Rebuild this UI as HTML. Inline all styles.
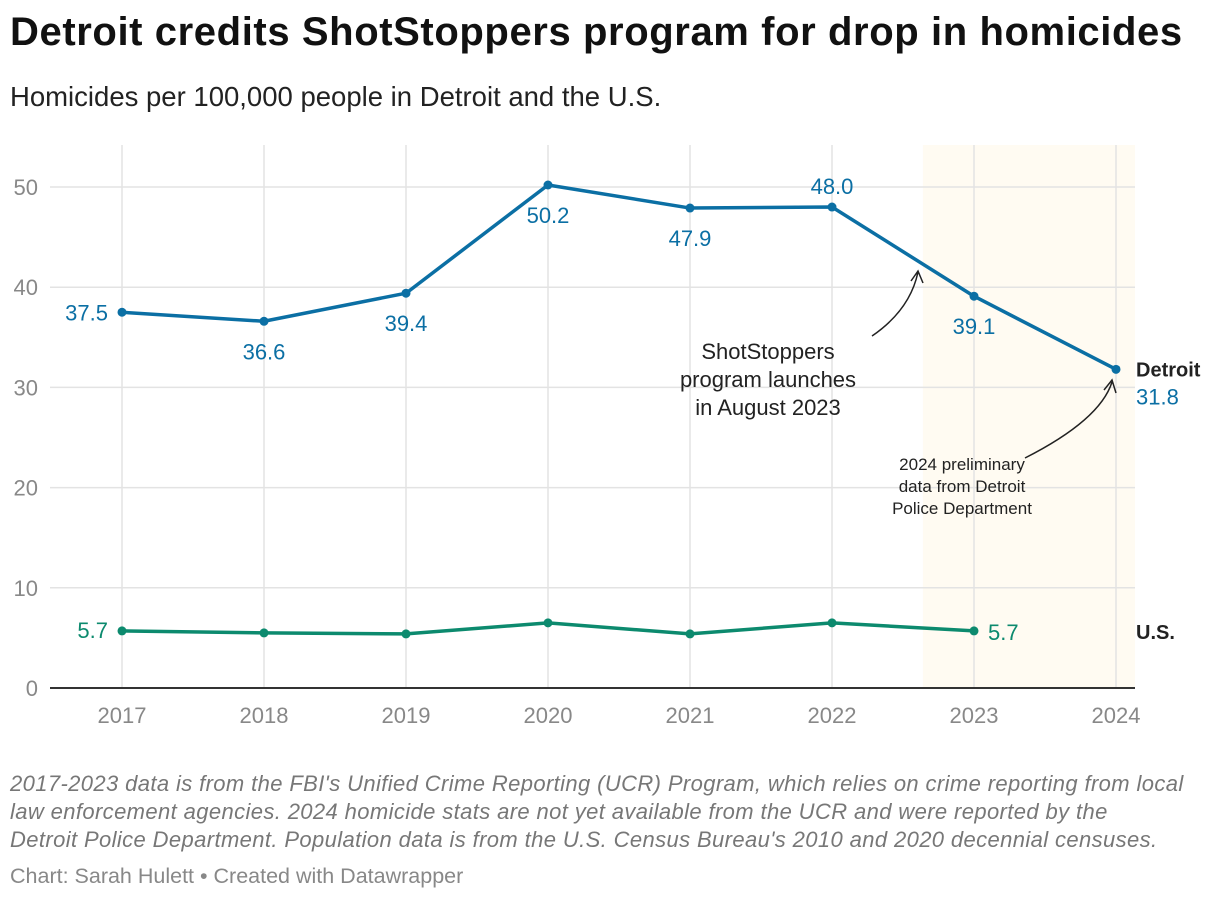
<!DOCTYPE html>
<html><head><meta charset="utf-8"><style>
body{margin:0;background:#fff;font-family:"Liberation Sans",sans-serif;width:1220px;height:900px;overflow:hidden;position:relative}
.t{position:absolute;left:10px;top:10px;font-size:40px;font-weight:bold;color:#111;letter-spacing:0.6px}
.s{position:absolute;left:10px;top:81px;font-size:27.5px;color:#222}
.n{position:absolute;left:10px;top:770px;font-size:22px;font-style:italic;color:#777;line-height:28px;width:1210px;white-space:nowrap;letter-spacing:0.38px}
.c{position:absolute;left:10px;top:864px;font-size:21.5px;color:#888}
</style></head><body>
<div class="t">Detroit credits ShotStoppers program for drop in homicides</div>
<div class="s">Homicides per 100,000 people in Detroit and the U.S.</div>
<svg id="ch" width="1220" height="760" style="position:absolute;left:0;top:0"></svg>
<div class="n">2017-2023 data is from the FBI's Unified Crime Reporting (UCR) Program, which relies on crime reporting from local<br>law enforcement agencies. 2024 homicide stats are not yet available from the UCR and were reported by the<br>Detroit Police Department. Population data is from the U.S. Census Bureau's 2010 and 2020 decennial censuses.</div>
<div class="c">Chart: Sarah Hulett • Created with Datawrapper</div>
<script>
const years=[2017,2018,2019,2020,2021,2022,2023,2024];
const detroit=[37.5,36.6,39.4,50.2,47.9,48.0,39.1,31.8];
const us=[5.7,5.5,5.4,6.5,5.4,6.5,5.7];
const yTicks=[0,10,20,30,40,50];
const NS="http://www.w3.org/2000/svg";
const svg=document.getElementById('ch');
const x=i=>122+i*(1116-122)/7;
const y=v=>688-v*(688-187)/50;
function el(t,a,p){const e=document.createElementNS(NS,t);for(const k in a)e.setAttribute(k,a[k]);(p||svg).appendChild(e);return e;}
function tx(s,a){const e=el('text',a);e.textContent=s;return e;}
let e=el('rect',{x:x(5.64),y:145,width:1135-x(5.64),height:543,fill:'#fffbf2'});


years.forEach((yr,i)=>{
 e=el('line',{x1:x(i),x2:x(i),y1:145,y2:688,stroke:'#e3e3e3','stroke-width':1.5});
 
 
 e=tx(yr,{x:x(i),y:723,'text-anchor':'middle','font-size':22,fill:'#888'});
 
 
});
yTicks.forEach(v=>{
 e=el('line',{x1:50,x2:1135,y1:y(v),y2:y(v),stroke:v?'#e3e3e3':'#333','stroke-width':v?1.5:2});
 
 
 e=tx(v,{x:38,y:y(v)+8,'text-anchor':'end','font-size':22,fill:'#888'});
 
 
});
function series(vals,col,name){
 e=el('polyline',{points:vals.map((v,i)=>x(i)+','+y(v)).join(' '),fill:'none',stroke:col,'stroke-width':3.5,'stroke-linejoin':'round'});
 
 
 vals.forEach((v,i)=>{e=el('circle',{cx:x(i),cy:y(v),r:4.5,fill:col});
 
 });
}
series(detroit,'#0b6fa4','detroit');
series(us,'#0c8a6e','us');
const pos=['l','b','b','b','b','a','b','r'];
detroit.forEach((v,i)=>{
 let a={x:x(i),y:y(v)+38,'text-anchor':'middle','font-size':22,fill:'#0b6fa4'};
 if(pos[i]=='a')a.y=y(v)-13;
 if(pos[i]=='l'){a.x=x(i)-14;a.y=y(v)+8;a['text-anchor']='end';}
 if(pos[i]=='r'){a.x=x(i)+20;a.y=y(v)+35;a['text-anchor']='start';}
 e=tx(v.toFixed(1),a);
 
 
});
e=tx(us[0].toFixed(1),{x:x(0)-14,y:y(us[0])+7,'text-anchor':'end','font-size':22,fill:'#0c8a6e'});


e=tx(us[6].toFixed(1),{x:x(6)+14,y:y(us[6])+9,'font-size':22,fill:'#0c8a6e'});


e=tx('Detroit',{x:1136,y:y(detroit[7])+7,'font-size':20,'font-weight':'bold',fill:'#222'});


e=tx('U.S.',{x:1136,y:639,'font-size':20,'font-weight':'bold',fill:'#222'});


['ShotStoppers','program launches','in August 2023'].forEach((s,i)=>{
 e=tx(s,{x:768,y:359+i*28,'text-anchor':'middle','font-size':22,fill:'#222'});
 
 
});
['2024 preliminary','data from Detroit','Police Department'].forEach((s,i)=>{
 e=tx(s,{x:962,y:470+i*22,'text-anchor':'middle','font-size':17,fill:'#222'});
 
 
});
e=el('path',{d:'M872,336 Q910,310 918,272 M911,281 L918,271 L923,283',fill:'none',stroke:'#222','stroke-width':1.5});


e=el('path',{d:'M1025,458 Q1100,420 1112,382 M1104,390 L1112,380 L1116,393',fill:'none',stroke:'#222','stroke-width':1.5});


</script>
</body></html>
